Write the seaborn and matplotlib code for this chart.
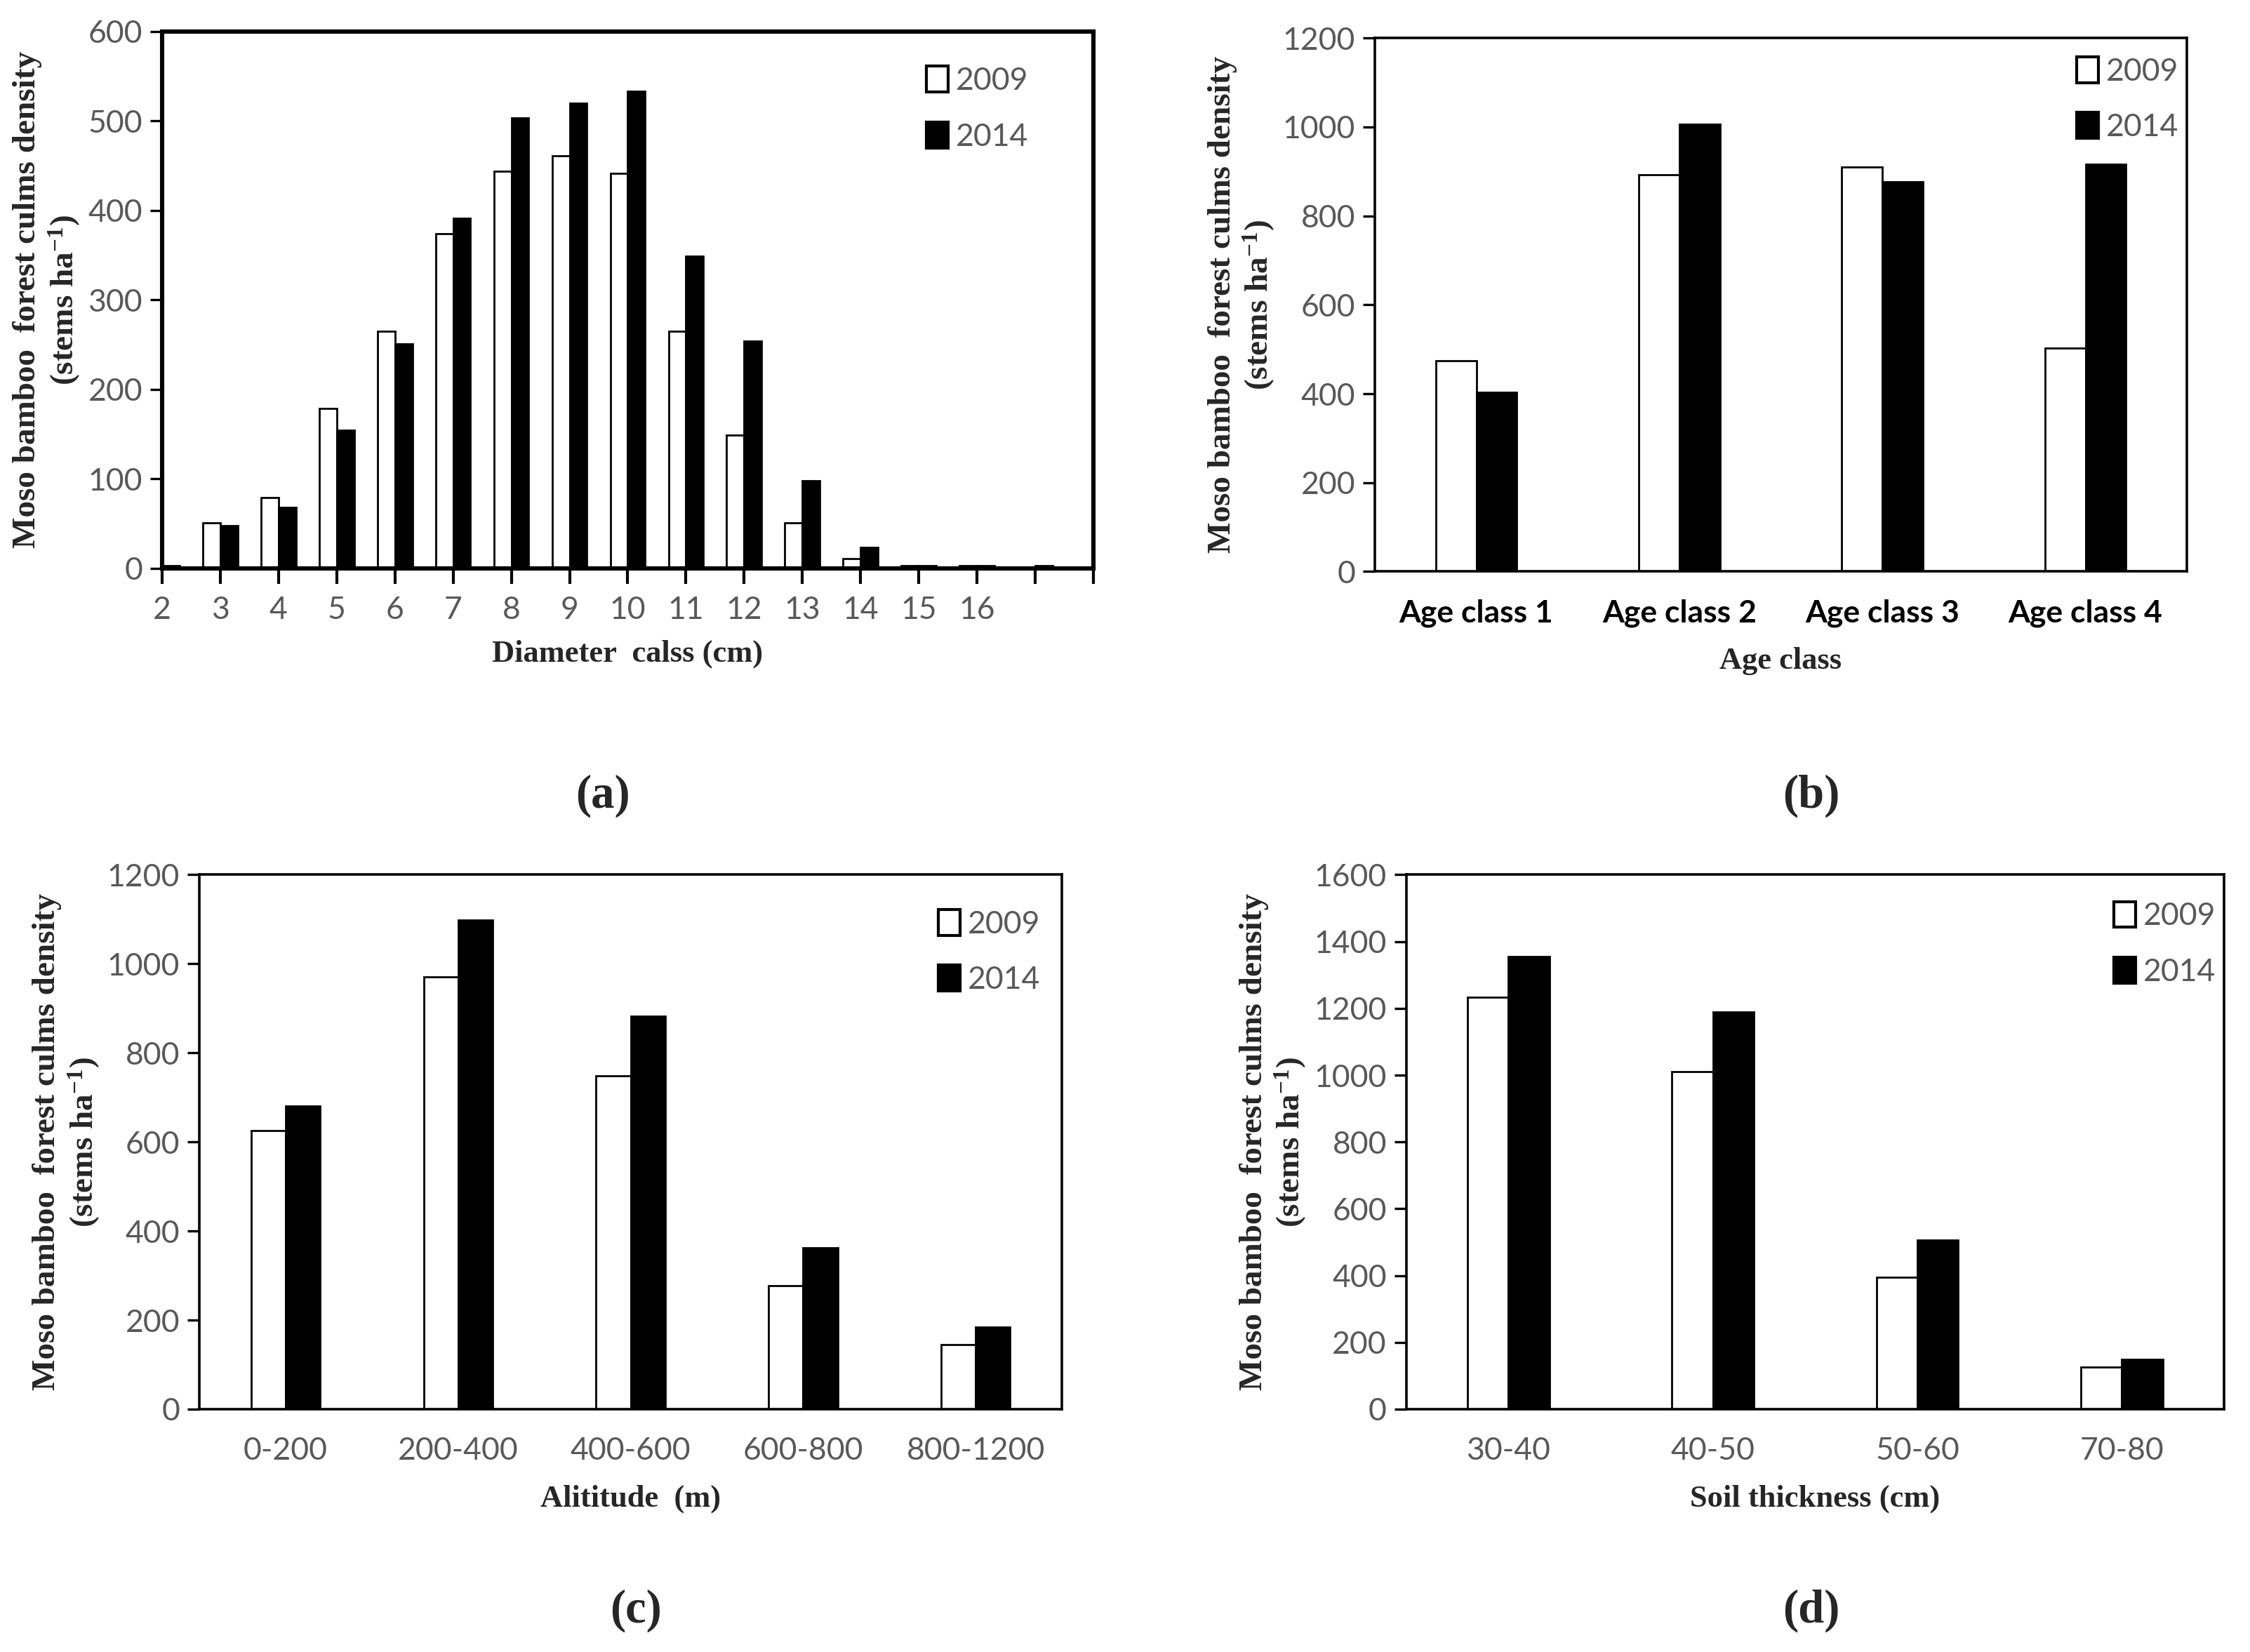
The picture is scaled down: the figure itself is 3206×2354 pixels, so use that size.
import pandas as pd
import matplotlib.pyplot as plt
import seaborn as sns
from matplotlib.patches import Patch

# (a) diameter class
diam_classes = ['2', '3', '4', '5', '6', '7', '8', '9', '10', '11', '12', '13', '14', '15', '16', '17']
diam_2009 = [0, 51, 79, 179, 265, 374, 444, 461, 441, 265, 149, 51, 11, 3, 3, 0]
diam_2014 = [3, 48, 68, 154, 251, 391, 503, 520, 533, 349, 254, 98, 23, 3, 3, 3]
diam_ticklabels = ['2', '3', '4', '5', '6', '7', '8', '9', '10', '11', '12', '13', '14', '15', '16', '', '']

# (b) age class
age_classes = ['Age class 1', 'Age class 2', 'Age class 3', 'Age class 4']
age_2009 = [475, 893, 910, 502]
age_2014 = [403, 1006, 877, 916]

# (c) altitude
alt_classes = ['0-200', '200-400', '400-600', '600-800', '800-1200']
alt_2009 = [625, 970, 748, 278, 145]
alt_2014 = [680, 1099, 882, 363, 184]

# (d) soil thickness
soil_classes = ['30-40', '40-50', '50-60', '70-80']
soil_2009 = [1234, 1011, 395, 126]
soil_2014 = [1355, 1190, 506, 149]

years = ['2009', '2014']

sns.set_theme(style='white')
plt.rcParams['font.family'] = ['Lato', 'DejaVu Sans']
plt.rcParams['mathtext.default'] = 'regular'

TICK_COLOR = '#595959'
SERIF = 'Liberation Serif'
YLABEL = 'Moso bamboo  forest culms density\n(stems ha$^{-1}$)'


def to_long(cats, v09, v14):
    return pd.DataFrame({
        'cat': cats * 2,
        'year': ['2009'] * len(cats) + ['2014'] * len(cats),
        'value': list(v09) + list(v14),
    })


def draw(ax, cats, v09, v14, width, spine_lw):
    df = to_long(cats, v09, v14)
    sns.barplot(data=df, x='cat', y='value', hue='year', order=cats,
                hue_order=years, palette={'2009': 'white', '2014': 'black'},
                edgecolor='black', linewidth=1.0, width=width, ax=ax,
                legend=False)
    for s in ax.spines.values():
        s.set_visible(True)
        s.set_color('black')
        s.set_linewidth(spine_lw)
    ax.tick_params(axis='y', which='major', direction='out', length=6,
                   width=1.2, color='black', labelsize=16,
                   labelcolor=TICK_COLOR, left=True, pad=4)
    ax.tick_params(axis='x', labelsize=16, labelcolor=TICK_COLOR)
    ax.set_ylabel(YLABEL, fontsize=17, fontweight='bold', family=SERIF,
                  linespacing=1.15)
    ax.yaxis.labelpad = 3


def legend(ax, anchor):
    handles = [Patch(facecolor='white', edgecolor='black', linewidth=1.5),
               Patch(facecolor='black', edgecolor='black', linewidth=1.5)]
    leg = ax.legend(handles, years, loc='upper right', bbox_to_anchor=anchor,
                    frameon=False, fontsize=16, handlelength=0.7,
                    handleheight=0.9, handletextpad=0.25, labelspacing=0.85,
                    borderaxespad=0, borderpad=0)
    for t in leg.get_texts():
        t.set_color(TICK_COLOR)


fig = plt.figure(figsize=(16.03, 11.77), dpi=200)

# (a)
ax_a = fig.add_axes([0.072, 0.656, 0.414, 0.325])
draw(ax_a, diam_classes, diam_2009, diam_2014, 0.6, 2.2)
ax_a.set_xlim(0, len(diam_classes))
ax_a.set_xticks(range(len(diam_ticklabels)))
ax_a.set_xticklabels(diam_ticklabels)
ax_a.tick_params(axis='x', bottom=True, direction='out', length=8,
                 width=1.5, color='black', pad=6)
ax_a.set_ylim(0, 600)
ax_a.set_yticks(range(0, 601, 100))
ax_a.set_xlabel('Diameter  calss (cm)', fontsize=16, fontweight='bold',
                family=SERIF, labelpad=8)
legend(ax_a, (0.93, 0.935))

# (b)
ax_b = fig.add_axes([0.611, 0.654, 0.361, 0.323])
draw(ax_b, age_classes, age_2009, age_2014, 0.4, 1.3)
ax_b.set_xlim(-0.5, 3.5)
ax_b.set_ylim(0, 1200)
ax_b.set_yticks(range(0, 1201, 200))
ax_b.tick_params(axis='x', length=0, pad=14)
for t in ax_b.get_xticklabels():
    t.set_color('black')
    t.set_fontweight('bold')
ax_b.set_xlabel('Age class', fontsize=16, fontweight='bold', family=SERIF,
                labelpad=10)
legend(ax_b, (0.99, 0.965))

# (c)
ax_c = fig.add_axes([0.0886, 0.147, 0.3834, 0.3235])
draw(ax_c, alt_classes, alt_2009, alt_2014, 0.4, 1.3)
ax_c.set_xlim(-0.5, 4.5)
ax_c.set_ylim(0, 1200)
ax_c.set_yticks(range(0, 1201, 200))
ax_c.tick_params(axis='x', length=0, pad=14)
ax_c.set_xlabel('Alititude  (m)', fontsize=16, fontweight='bold', family=SERIF,
                labelpad=10)
legend(ax_c, (0.975, 0.935))

# (d)
ax_d = fig.add_axes([0.625, 0.147, 0.3635, 0.3235])
draw(ax_d, soil_classes, soil_2009, soil_2014, 0.4, 1.3)
ax_d.set_xlim(-0.5, 3.5)
ax_d.set_ylim(0, 1600)
ax_d.set_yticks(range(0, 1601, 200))
ax_d.tick_params(axis='x', length=0, pad=14)
ax_d.set_xlabel('Soil thickness (cm)', fontsize=16, fontweight='bold',
                family=SERIF, labelpad=10)
legend(ax_d, (0.99, 0.95))

for label, x, y in [('(a)', 0.268, 0.518), ('(b)', 0.805, 0.518),
                    ('(c)', 0.2825, 0.025), ('(d)', 0.805, 0.025)]:
    fig.text(x, y, label, ha='center', va='center', fontsize=24,
             fontweight='bold', family=SERIF)

fig.savefig('out.png', dpi=200)
